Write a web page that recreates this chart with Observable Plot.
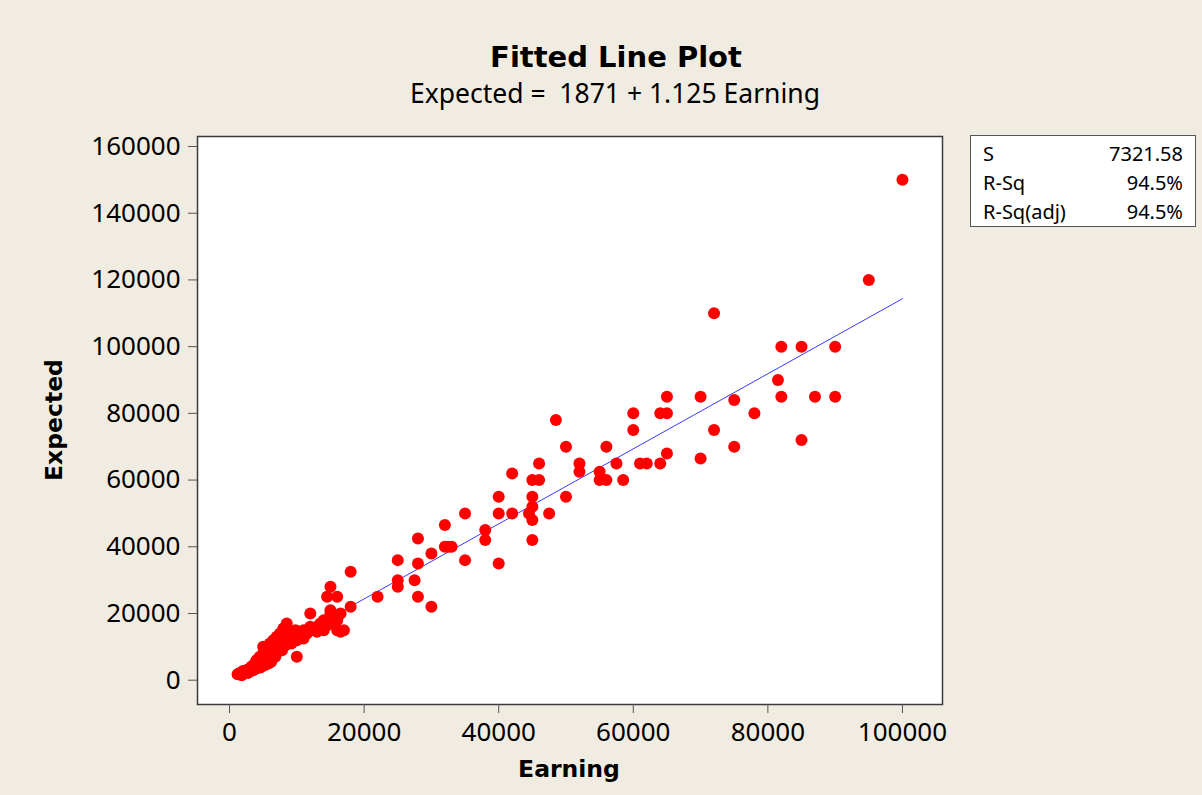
<!DOCTYPE html>
<html><head><meta charset="utf-8">
<script src="https://cdn.jsdelivr.net/npm/d3@7"></script>
<script src="https://cdn.jsdelivr.net/npm/@observablehq/plot@0.6"></script>
<style>
html,body{margin:0;padding:0;background:#f0ece2;}
#wrap{position:relative;width:1202px;height:795px;overflow:hidden;background:#f0ece2;font-family:"Noto Sans",sans-serif;color:#000;}
#wrap svg{position:absolute;left:0;top:0;}
.t{position:absolute;white-space:nowrap;line-height:1;}
.bold{font-family:"DejaVu Sans",sans-serif;font-weight:bold;}
#legend{position:absolute;left:970px;top:135px;width:224px;height:90px;background:#fff;border:1.5px solid #555;}
</style></head><body><div id="wrap"></div>
<script>
// ---- data ----
const earning = [
  1200,1500,1800,2000,2200,2500,2800,3000,3000,
  3300,3500,3800,4000,4000,4300,4500,4600,5000,5000,5000,5200,
  5500,5500,5800,6000,6000,6200,6500,6500,6800,7000,7000,
  7200,7500,7500,7800,8000,8000,8300,8500,8500,8800,
  9000,9200,9500,9800,10000,10000,10300,10500,11000,11000,11500,12000,12000,
  12500,13000,13000,13500,14000,14000,14500,15000,15000,15000,14500,15000,16000,16000,16000,16200,16500,16500,17000,
  18000,18000,22000,25000,25000,25000,27500,28000,28000,28000,30000,30000,
  32000,32000,32500,33000,35000,35000,38000,38000,40000,40000,40000,42000,42000,44500,
  45000,46000,46000,45000,45000,45000,45000,47500,48500,50000,50000,52000,52000,
  55000,55000,56000,56000,57500,58500,60000,60000,61000,62000,64000,64000,65000,65000,65000,
  70000,70000,72000,72000,75000,75000,78000,81500,82000,82000,85000,85000,87000,90000,90000,95000,100000
];
const expected = [
  1800,2200,1500,2800,2000,3000,2200,3500,2800,
  4200,3000,5000,3500,6000,4500,7000,3800,5500,8000,10000,4500,
  6500,9000,5000,7500,11000,5500,9500,12000,7000,10000,13000,
  8500,11000,14000,9000,12500,15500,10500,13500,17000,12000,
  14500,11000,13000,15000,12000,7000,14500,13500,15000,12500,14000,16000,20000,
  15000,14500,16000,17000,15000,18000,16500,17500,20000,21000,25000,28000,15000,25000,18000,19500,14500,20000,15000,
  32500,22000,25000,36000,30000,28000,30000,42500,35000,25000,38000,22000,
  46500,40000,40000,40000,50000,36000,45000,42000,55000,50000,35000,62000,50000,50000,
  60000,60000,65000,55000,52000,48000,42000,50000,78000,70000,55000,65000,62500,
  62500,60000,60000,70000,65000,60000,80000,75000,65000,65000,65000,80000,80000,85000,68000,
  85000,66500,110000,75000,84000,70000,80000,90000,100000,85000,100000,72000,85000,100000,85000,120000,150000
];
const xTicks = [0, 20000, 40000, 60000, 80000, 100000];
const yTicks = [0, 20000, 40000, 60000, 80000, 100000, 120000, 140000, 160000];
const fitIntercept = 1871;
const fitSlope = 1.125;
const titleText = "Fitted Line Plot";
const subtitleText = "Expected =\u00a0 1871 + 1.125 Earning";
const xLabel = "Earning";
const yLabel = "Expected";
const statLabels = ["S", "R-Sq", "R-Sq(adj)"];
const statValues = ["7321.58", "94.5%", "94.5%"];

// ---- build ----
const points = earning.map((x, i) => ({earning: x, expected: expected[i]}));
const fit = d3.extent(earning).map(x => ({x, y: fitIntercept + fitSlope * x}));

const chart = Plot.plot({
  width: 1202, height: 795,
  marginLeft: 197, marginRight: 260, marginTop: 136, marginBottom: 91,
  x: {domain: [-4760, 105950]},
  y: {domain: [-7280, 163000]},
  style: {background: "transparent", fontFamily: "'Noto Sans', sans-serif", fontSize: "26px", color: "#000"},
  marks: [
    Plot.frame({fill: "white", stroke: "none"}),
    Plot.line(fit, {x: "x", y: "y", stroke: "#3a3aff", strokeWidth: 1}),
    Plot.dot(points, {x: "earning", y: "expected", r: 6, fill: "#ff0000"}),
    Plot.frame({stroke: "#3a3a3a", strokeWidth: 1.5}),
    Plot.axisX({ticks: xTicks, tickSize: 9, tickPadding: 9, tickFormat: d => String(d), label: null, fontSize: 26, stroke: "#555"}),
    Plot.axisY({ticks: yTicks, tickSize: 9, tickPadding: 8, tickFormat: d => String(d), label: null, fontSize: 26, stroke: "#555"})
  ]
});
const wrap = document.getElementById("wrap");
wrap.appendChild(chart);

function addText(txt, cls, size, left, baseline, align) {
  const d = document.createElement("div");
  d.className = "t " + cls;
  d.textContent = txt;
  d.style.fontSize = size + "px";
  const k = cls.includes("bold") ? 0.846 : 0.888;
  d.style.top = (baseline - k * size) + "px";
  if (align === "center") { d.style.left = left + "px"; d.style.transform = "translateX(-50%)"; }
  else if (align === "right") { d.style.left = left + "px"; d.style.transform = "translateX(-100%)"; }
  else d.style.left = left + "px";
  wrap.appendChild(d);
  return d;
}
addText(titleText, "bold", 29, 616, 67.5, "center");
addText(subtitleText, "", 26.5, 615, 104, "center");
addText(xLabel, "bold", 23.5, 569, 778, "center");

// rotated y label
const yl = document.createElement("div");
yl.style.cssText = "position:absolute;left:63px;top:420px;width:0;height:0;transform:rotate(-90deg);transform-origin:0 0;";
const yli = document.createElement("div");
yli.className = "t bold";
yli.textContent = yLabel;
yli.style.fontSize = "23.5px";
yli.style.top = (-0.846 * 23.5) + "px";
yli.style.left = "0px";
yli.style.transform = "translateX(-50%)";
yl.appendChild(yli);
wrap.appendChild(yl);

// stats box
const lg = document.createElement("div");
lg.id = "legend";
wrap.appendChild(lg);
const rowBase = [162, 191, 220];
statLabels.forEach((s, i) => {
  addText(s, "", 20, 983, rowBase[i], "left");
  addText(statValues[i], "", 20, 1183, rowBase[i], "right");
});
</script>
</body></html>
